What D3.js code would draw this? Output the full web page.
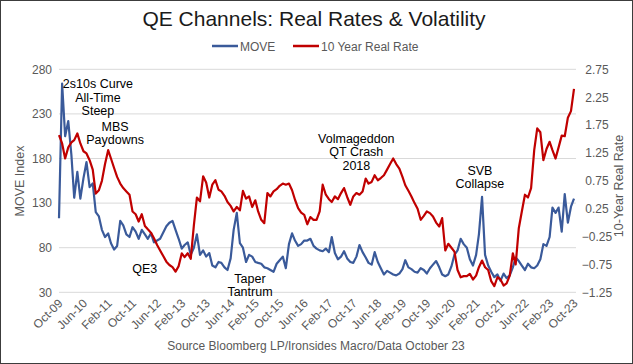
<!DOCTYPE html>
<html>
<head>
<meta charset="utf-8">
<script src="https://cdn.jsdelivr.net/npm/d3@7"></script>
<style>
  html, body { margin: 0; padding: 0; background: #fff; }
  svg { display: block; font-family: "Liberation Sans", Arial, sans-serif; }
</style>
</head>
<body>
<svg id="chart" width="633" height="364"></svg>
<script>
// monthly observations, first one is Oct-09, last one Oct-23
const startYear = 2009, startMonth = 9;

const moveIndex = [
  113, 264, 205, 222, 184, 136, 165, 135, 158, 176,
  148, 152, 120, 115, 100, 92, 96, 85, 78, 82,
  110, 105, 95, 92, 103, 98, 90, 100, 95, 90,
  96, 86, 88, 90, 97, 104, 108, 110, 100, 90,
  79, 83, 86, 72, 80, 95, 72, 77, 70, 74,
  60, 58, 64, 63, 58, 55, 68, 100, 119, 85,
  80, 64, 72, 70, 64, 63, 62, 58, 57, 55,
  53, 62, 66, 70, 57, 84, 96, 88, 82, 84,
  88, 88, 90, 82, 79, 77, 76, 79, 75, 92,
  74, 67, 70, 76, 68, 64, 63, 70, 83, 75,
  69, 63, 61, 75, 64, 57, 50, 54, 52, 50,
  49, 51, 56, 66, 58, 56, 53, 52, 57, 55,
  51, 57, 61, 65, 58, 50, 48, 50, 59, 72,
  77, 90, 84, 80, 67, 60, 72, 95, 137, 72,
  60, 53, 47, 50, 43, 51, 46, 49, 58, 69,
  65, 60, 55, 62, 58, 57, 60, 67, 84, 82,
  92, 125, 119, 125, 98, 140, 108, 126, 135
];

const realRate = [
  1.57, 1.42, 1.15, 1.35, 1.44, 1.48, 1.60, 1.42, 1.28, 1.24,
  1.12, 0.95, 0.52, 0.58, 0.75, 1.05, 1.30, 1.15, 0.98, 0.82,
  0.70, 0.62, 0.56, 0.50, 0.20, 0.15, 0.02, 0.15, -0.06, -0.12,
  -0.18, -0.28, -0.40, -0.50, -0.60, -0.70, -0.76, -0.80, -0.88, -0.78,
  -0.55, -0.62, -0.55, -0.65, -0.05, 0.45, 0.38, 0.83, 0.72, 0.45,
  0.68, 0.76, 0.59, 0.56, 0.48, 0.37, 0.30, 0.20, 0.28, 0.22,
  0.57, 0.43, 0.47, 0.28, 0.40, 0.20, 0.05, -0.01, 0.53, 0.47,
  0.56, 0.60, 0.66, 0.70, 0.68, 0.70, 0.58, 0.41, 0.26, 0.18,
  0.14, -0.03, 0.10, 0.05, 0.05, 0.20, 0.68, 0.50, 0.42, 0.37,
  0.47, 0.42, 0.53, 0.62, 0.46, 0.32, 0.47, 0.53, 0.50, 0.56,
  0.79, 0.70, 0.73, 0.85, 0.76, 0.80, 0.85, 0.95, 1.05, 1.15,
  1.05, 0.97, 0.82, 0.67, 0.57, 0.47, 0.35, 0.25, 0.05, 0.12,
  0.20, 0.17, 0.11, 0.00, -0.07, 0.08, -0.50, -0.38, -0.45, -0.52,
  -0.85, -0.98, -0.96, -0.96, -0.92, -1.02, -0.95, -0.80, -0.68, -0.80,
  -0.85, -1.05, -1.14, -0.98, -1.02, -1.13, -1.09, -0.95, -0.55, -0.75,
  -0.10, 0.20, 0.50, 0.45, 0.62, 1.30, 1.69, 1.62, 1.12, 1.32,
  1.45, 1.30, 1.15, 1.35, 1.56, 1.55, 1.88, 2.00, 2.40
];

const leftTicks = [30, 80, 130, 180, 230, 280];
const rightTicks = [-1.25, -0.75, -0.25, 0.25, 0.75, 1.25, 1.75, 2.25, 2.75];
const tickEveryMonths = 8;

// note anchors: month index (centre) and MOVE value of the first baseline
const notes = [
  { lines: ['2s10s Curve', 'All-Time', 'Steep'], month: 12.7, value: 259 },
  { lines: ['MBS', 'Paydowns'], month: 18.3, value: 211 },
  { lines: ['QE3'], month: 28, value: 52 },
  { lines: ['Taper', 'Tantrum'], month: 62.3, value: 40.6 },
  { lines: ['Volmageddon', 'QT Crash', '2018'], month: 97, value: 197.6 },
  { lines: ['SVB', 'Collapse'], month: 137.3, value: 162 }
];

const svg = d3.select('#chart');
const W = 633, H = 364;

const moveColor = '#3a5a9a',
    rateColor = '#c00000',
    axisText = '#595959',
    gridColor = '#d9d9d9';

const monthDate = i => new Date(startYear, startMonth + i, 1);
const moveData = moveIndex.map((v, i) => ({ date: monthDate(i), v }));
const rateData = realRate.map((v, i) => ({ date: monthDate(i), v }));

const x = d3.scaleTime()
    .domain([monthDate(0), monthDate(moveIndex.length - 1)])
    .range([59, 574]);
const xm = d3.scaleLinear().domain([0, moveIndex.length - 1]).range([59, 574]);
const yL = d3.scaleLinear().domain([30, 280]).range([292.3, 69.3]);
const yR = d3.scaleLinear().domain([-1.25, 2.75]).range([292.3, 69.3]);

// frame
svg.append('rect')
    .attr('x', 0.5).attr('y', 0.5)
    .attr('width', W - 1).attr('height', H - 1)
    .attr('fill', '#fff').attr('stroke', '#3c3c3c');

// title
svg.append('text')
    .attr('x', 314).attr('y', 26)
    .attr('text-anchor', 'middle')
    .attr('font-size', 21)
    .attr('fill', '#1a1a1a')
    .text('QE Channels: Real Rates & Volatility');

// legend
const legend = svg.append('g').attr('font-size', 12).attr('fill', axisText);
[[212, 'MOVE', moveColor], [293, '10 Year Real Rate', rateColor]].forEach(([lx, label, c]) => {
    legend.append('line')
        .attr('x1', lx).attr('x2', lx + 26)
        .attr('y1', 46).attr('y2', 46)
        .attr('stroke', c).attr('stroke-width', 2.5);
    legend.append('text')
        .attr('x', lx + 28).attr('y', 50.5)
        .text(label);
});

// gridlines
svg.append('g').selectAll('line')
    .data(leftTicks)
    .join('line')
    .attr('x1', 59).attr('x2', 576)
    .attr('y1', d => yL(d)).attr('y2', d => yL(d))
    .attr('stroke', gridColor).attr('stroke-width', 1);

// left axis
const leftAxis = svg.append('g')
    .attr('transform', 'translate(52,0)')
    .call(d3.axisLeft(yL).tickValues(leftTicks).tickSize(0).tickPadding(0));
leftAxis.select('.domain').remove();
leftAxis.selectAll('text').attr('font-size', 12).attr('fill', axisText)
    .attr('font-family', '"Liberation Sans", Arial, sans-serif');

// right axis
const rightAxis = svg.append('g')
    .attr('transform', 'translate(597,0)')
    .call(d3.axisRight(yR).tickValues(rightTicks).tickSize(0).tickPadding(0)
        .tickFormat(d3.format('.2f')));
rightAxis.select('.domain').remove();
rightAxis.selectAll('text').attr('font-size', 12).attr('fill', axisText)
    .attr('text-anchor', 'middle')
    .attr('font-family', '"Liberation Sans", Arial, sans-serif');

// bottom axis, category ticks every 8 months
const xTicks = d3.range(0, moveIndex.length, tickEveryMonths).map(monthDate);
const bottomAxis = svg.append('g')
    .attr('transform', 'translate(0,296)')
    .call(d3.axisBottom(x).tickValues(xTicks).tickSize(0).tickPadding(0)
        .tickFormat(d3.timeFormat('%b-%y')));
bottomAxis.select('.domain').remove();
bottomAxis.selectAll('text')
    .attr('font-size', 12).attr('fill', axisText)
    .attr('font-family', '"Liberation Sans", Arial, sans-serif')
    .attr('text-anchor', 'end')
    .attr('dy', 0)
    .attr('transform', 'translate(4,8) rotate(-45)');

// axis titles
svg.append('text')
    .attr('transform', 'translate(24,181) rotate(-90)')
    .attr('text-anchor', 'middle')
    .attr('font-size', 12.5).attr('fill', axisText)
    .text('MOVE Index');
svg.append('text')
    .attr('transform', 'translate(623,186) rotate(-90)')
    .attr('text-anchor', 'middle')
    .attr('font-size', 12.5).attr('fill', axisText)
    .text('10-Year Real Rate');

// source
svg.append('text')
    .attr('x', 316).attr('y', 350)
    .attr('text-anchor', 'middle')
    .attr('font-size', 12).attr('fill', axisText)
    .text('Source Bloomberg LP/Ironsides Macro/Data October 23');

// series
const lineL = d3.line().x(d => x(d.date)).y(d => yL(d.v));
const lineR = d3.line().x(d => x(d.date)).y(d => yR(d.v));

svg.append('path')
    .datum(moveData)
    .attr('d', lineL)
    .attr('fill', 'none')
    .attr('stroke', moveColor)
    .attr('stroke-width', 2.2)
    .attr('stroke-linejoin', 'round');

svg.append('path')
    .datum(rateData)
    .attr('d', lineR)
    .attr('fill', 'none')
    .attr('stroke', rateColor)
    .attr('stroke-width', 2.2)
    .attr('stroke-linejoin', 'round');

// annotations
notes.forEach(n => {
    const t = svg.append('text')
        .attr('text-anchor', 'middle')
        .attr('font-size', 12.5)
        .attr('fill', '#000');
    n.lines.forEach((s, k) => {
        t.append('tspan')
            .attr('x', xm(n.month))
            .attr('y', yL(n.value) + k * 13.5)
            .text(s);
    });
});
</script>
</body>
</html>
